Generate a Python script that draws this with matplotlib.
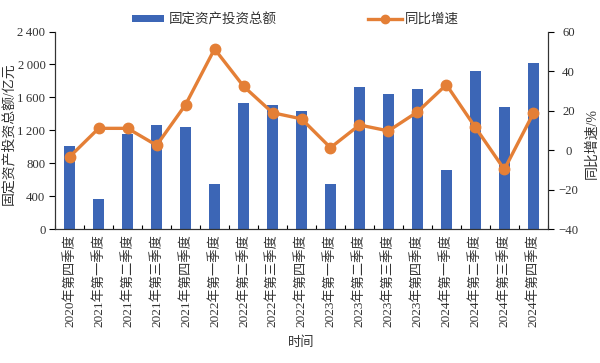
import matplotlib
matplotlib.use("Agg")
import matplotlib.pyplot as plt
from matplotlib.ticker import FuncFormatter, FixedLocator

plt.rcParams['font.family'] = ['Liberation Serif', 'Noto Sans CJK SC']
plt.rcParams['axes.unicode_minus'] = False

categories = ["2020年第四季度", "2021年第一季度", "2021年第二季度", "2021年第三季度",
              "2021年第四季度", "2022年第一季度", "2022年第二季度", "2022年第三季度",
              "2022年第四季度", "2023年第一季度", "2023年第二季度", "2023年第三季度",
              "2023年第四季度", "2024年第一季度", "2024年第二季度", "2024年第三季度",
              "2024年第四季度"]
investment = [1010, 360, 1160, 1268, 1240, 544, 1537, 1502, 1432, 546, 1722, 1640,
              1706, 718, 1925, 1480, 2022]
growth = [-3.4, 11.0, 11.0, 2.4, 23.0, 51.2, 32.3, 18.9, 15.8, 1.2, 12.7, 9.7,
          19.3, 33.1, 11.5, -9.8, 18.6]

left_ticks = [0, 400, 800, 1200, 1600, 2000, 2400]
right_ticks = [-40, -20, 0, 20, 40, 60]

bar_color = "#3C66B6"
line_color = "#E47F36"
text_color = "#333333"
fs = 9.5
tfs = 9.2

fig = plt.figure(figsize=(6.0, 3.63), dpi=100)
ax = fig.add_axes([0.092, 0.369, 0.821, 0.544])
ax2 = ax.twinx()

x = list(range(len(categories)))
bars = ax.bar(x, investment, width=0.4, color=bar_color, label="固定资产投资总额", zorder=2)
ax.set_ylim(0, 2400)
ax.set_xlim(-0.4, len(categories) - 0.6)
ax.yaxis.set_major_locator(FixedLocator(left_ticks))
ax.yaxis.set_major_formatter(FuncFormatter(lambda v, p: f"{int(v):,}".replace(",", "\u2009")))
ax.set_xticks(x)
ax.set_xticklabels(categories, rotation=90, fontsize=fs, color=text_color)
ax.tick_params(axis='x', which='major', length=0, pad=4)
ax.set_xticks([i + 0.5 for i in range(-1, len(categories))], minor=True)
ax.tick_params(axis='x', which='minor', direction='in', length=3, width=0.8)
ax.tick_params(axis='y', direction='out', length=4, labelsize=tfs, width=0.8,
               labelcolor=text_color, pad=3)
ax.set_ylabel("固定资产投资总额/亿元", fontsize=10, color=text_color, va='center')
ax.yaxis.set_label_coords((8 - 55) / 493, (229 - 134) / 197.3)

ln, = ax2.plot(x, growth, color=line_color, linewidth=2.4, marker='o', markersize=7.5,
               label="同比增速", zorder=3)
ax2.set_ylim(-40, 60)
ax2.yaxis.set_major_locator(FixedLocator(right_ticks))
ax2.yaxis.set_major_formatter(FuncFormatter(lambda v, p: f"{int(v)}".replace("-", "−")))
ax2.tick_params(axis='y', direction='out', length=4, labelsize=tfs, width=0.8,
                labelcolor=text_color, pad=11)
for lab in ax2.get_yticklabels():
    lab.set_ha('center')
ax2.set_ylabel("同比增速/%", fontsize=10, rotation=90, color=text_color, va='center')
ax2.yaxis.set_label_coords((592 - 55) / 493, (229 - 144) / 197.3)

for a in (ax, ax2):
    a.spines['top'].set_visible(False)
    for s in ('left', 'right', 'bottom'):
        a.spines[s].set_linewidth(0.8)
        a.spines[s].set_color('#333333')

ax.set_xlabel("时间", fontsize=fs, color=text_color, va='center')
ax.xaxis.set_label_coords(0.5, (229 - 343) / 197.3)

fig.legend(handles=[bars], loc='center left', bbox_to_anchor=(132 / 600, 1 - 20 / 363),
           frameon=False, fontsize=9.7, handlelength=2.4, handleheight=0.45,
           handletextpad=0.35, borderaxespad=0, borderpad=0, labelcolor=text_color)
fig.legend(handles=[ln], loc='center left', bbox_to_anchor=(368 / 600, 1 - 20 / 363),
           frameon=False, fontsize=9.7, handlelength=2.5, handletextpad=0.2,
           borderaxespad=0, borderpad=0, markerscale=0.8, labelcolor=text_color)

fig.savefig("out.png", dpi=100)
